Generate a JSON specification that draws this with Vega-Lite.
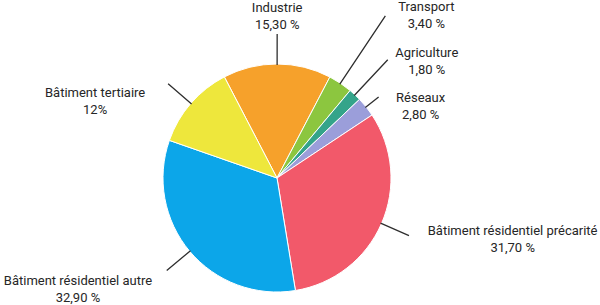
{
  "$schema": "https://vega.github.io/schema/vega-lite/v6.json",
  "autosize": {"type": "none"},
  "width": 554,
  "height": 254,
  "padding": {"left": 0, "top": 51, "right": 46, "bottom": 0},
  "background": "#ffffff",
  "config": {"view": {"stroke": null}},
  "data": {
    "values": [
      {"cat": "Industrie", "value": 15.3, "label": "Industrie\n15,30 %"},
      {"cat": "Transport", "value": 3.4, "label": "Transport\n3,40 %"},
      {"cat": "Agriculture", "value": 1.8, "label": "Agriculture\n1,80 %"},
      {"cat": "Réseaux", "value": 2.8, "label": "Réseaux\n2,80 %"},
      {"cat": "Bâtiment résidentiel précarité", "value": 31.7, "label": "Bâtiment résidentiel précarité\n31,70 %"},
      {"cat": "Bâtiment résidentiel autre", "value": 32.9, "label": "Bâtiment résidentiel autre\n32,90 %"},
      {"cat": "Bâtiment tertiaire", "value": 12, "label": "Bâtiment tertiaire\n12%"}
    ]
  },
  "transform": [{"window": [{"op": "row_number", "as": "idx"}]}],
  "encoding": {
    "theta": {"field": "value", "type": "quantitative", "stack": true, "scale": {"range": [-0.48, 5.8032]}},
    "order": {"field": "idx", "type": "quantitative"},
    "detail": {"field": "cat", "type": "nominal"}
  },
  "layer": [
    {
      "mark": {"type": "arc", "outerRadius": 114, "stroke": "#ffffff", "strokeWidth": 1},
      "encoding": {
        "color": {
          "field": "cat", "type": "nominal", "legend": null,
          "scale": {
            "domain": ["Industrie", "Transport", "Agriculture", "Réseaux", "Bâtiment résidentiel précarité", "Bâtiment résidentiel autre", "Bâtiment tertiaire"],
            "range": ["#F6A12B", "#8CC63F", "#34A48A", "#9B9EDA", "#F2596A", "#0CA6E9", "#EEE73C"]
          }
        }
      }
    },
    {
      "mark": {"type": "arc", "innerRadius": 113, "outerRadius": 144, "padAngle": 3, "fillOpacity": 0, "stroke": "#2e2e2e", "strokeWidth": 1.3},
      "encoding": {
        "strokeOpacity": {"condition": {"test": "indexof(['Industrie','Bâtiment résidentiel précarité','Bâtiment résidentiel autre','Bâtiment tertiaire'], datum.cat) >= 0", "value": 1}, "value": 0}
      }
    },
    {
      "mark": {"type": "arc", "innerRadius": 113, "outerRadius": 195, "padAngle": 3, "fillOpacity": 0, "stroke": "#2e2e2e", "strokeWidth": 1.3},
      "encoding": {
        "strokeOpacity": {"condition": {"test": "datum.cat === 'Transport'", "value": 1}, "value": 0}
      }
    },
    {
      "mark": {"type": "arc", "innerRadius": 113, "outerRadius": 162, "padAngle": 3, "fillOpacity": 0, "stroke": "#2e2e2e", "strokeWidth": 1.3},
      "encoding": {
        "strokeOpacity": {"condition": {"test": "datum.cat === 'Agriculture'", "value": 1}, "value": 0}
      }
    },
    {
      "mark": {"type": "arc", "innerRadius": 113, "outerRadius": 130, "padAngle": 3, "fillOpacity": 0, "stroke": "#2e2e2e", "strokeWidth": 1.3},
      "encoding": {
        "strokeOpacity": {"condition": {"test": "datum.cat === 'Réseaux'", "value": 1}, "value": 0}
      }
    },
    {
      "mark": {"type": "text", "radius": 162, "dx": 0, "dy": -8.5, "align": "center", "baseline": "middle", "font": "Roboto", "fontSize": 13, "lineHeight": 17, "lineBreak": "\n", "color": "#262626"},
      "encoding": {"text": {"condition": {"test": "datum.cat === 'Industrie'", "field": "label"}, "value": ""}}
    },
    {
      "mark": {"type": "text", "radius": 195, "dx": 41, "dy": -8.5, "align": "center", "baseline": "middle", "font": "Roboto", "fontSize": 13, "lineHeight": 17, "lineBreak": "\n", "color": "#262626"},
      "encoding": {"text": {"condition": {"test": "datum.cat === 'Transport'", "field": "label"}, "value": ""}}
    },
    {
      "mark": {"type": "text", "radius": 162, "dx": 39, "dy": -6.5, "align": "center", "baseline": "middle", "font": "Roboto", "fontSize": 13, "lineHeight": 17, "lineBreak": "\n", "color": "#262626"},
      "encoding": {"text": {"condition": {"test": "datum.cat === 'Agriculture'", "field": "label"}, "value": ""}}
    },
    {
      "mark": {"type": "text", "radius": 130, "dx": 42, "dy": 1.5, "align": "center", "baseline": "middle", "font": "Roboto", "fontSize": 13, "lineHeight": 17, "lineBreak": "\n", "color": "#262626"},
      "encoding": {"text": {"condition": {"test": "datum.cat === 'Réseaux'", "field": "label"}, "value": ""}}
    },
    {
      "mark": {"type": "text", "radius": 148, "dx": 100, "dy": -6.5, "align": "center", "baseline": "middle", "font": "Roboto", "fontSize": 13, "lineHeight": 17, "lineBreak": "\n", "color": "#262626"},
      "encoding": {"text": {"condition": {"test": "datum.cat === 'Bâtiment résidentiel précarité'", "field": "label"}, "value": ""}}
    },
    {
      "mark": {"type": "text", "radius": 145, "dx": -88, "dy": 9.5, "align": "center", "baseline": "middle", "font": "Roboto", "fontSize": 13, "lineHeight": 17, "lineBreak": "\n", "color": "#262626"},
      "encoding": {"text": {"condition": {"test": "datum.cat === 'Bâtiment résidentiel autre'", "field": "label"}, "value": ""}}
    },
    {
      "mark": {"type": "text", "radius": 148, "dx": -70, "dy": 11.5, "align": "center", "baseline": "middle", "font": "Roboto", "fontSize": 13, "lineHeight": 17, "lineBreak": "\n", "color": "#262626"},
      "encoding": {"text": {"condition": {"test": "datum.cat === 'Bâtiment tertiaire'", "field": "label"}, "value": ""}}
    }
  ]
}
